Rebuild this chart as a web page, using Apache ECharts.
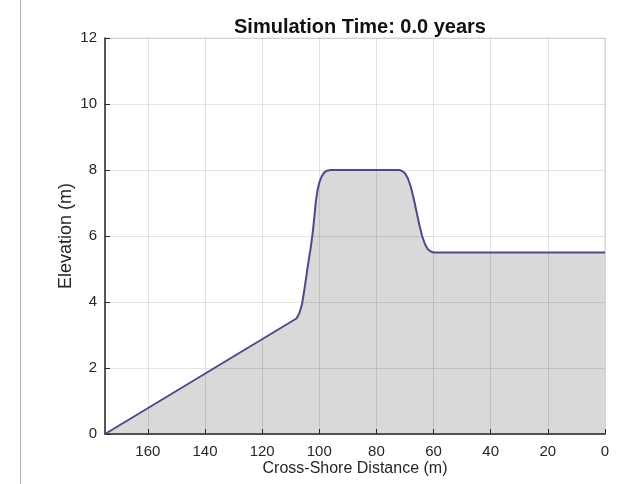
<!DOCTYPE html>
<html>
<head>
<meta charset="utf-8">
<script src="https://cdn.jsdelivr.net/npm/echarts@6/dist/echarts.min.js"></script>
<style>html,body{margin:0;padding:0;background:#fff;}#c{width:628px;height:484px;}</style>
</head>
<body>
<div id="c"></div>
<script>
var titleText = 'Simulation Time: 0.0 years';
var xName = 'Cross-Shore Distance (m)';
var yName = 'Elevation (m)';
var distance = [175, 108, 107, 106, 105, 104, 103, 102.3, 101.7, 101.2, 100.6, 100, 99.2, 98.3, 97.3, 96, 72, 71, 70, 69, 68, 67, 66, 65, 64, 63, 62, 61, 60, 0];
var elevation = [0, 3.5, 3.65, 3.95, 4.5, 5.1, 5.65, 6.1, 6.6, 7.05, 7.4, 7.62, 7.8, 7.92, 7.98, 8, 8, 7.97, 7.9, 7.75, 7.5, 7.15, 6.75, 6.35, 6.0, 5.75, 5.6, 5.53, 5.5, 5.5];

var pts = distance.map(function (d, i) { return [d, elevation[i]]; });
var chart = echarts.init(document.getElementById('c'));
var font = 'Liberation Sans, Arial, Helvetica, sans-serif';
chart.setOption({
  animation: false,
  backgroundColor: '#fff',
  title: {
    text: titleText, left: 355, top: 12, textAlign: 'center',
    textStyle: { fontFamily: font, fontSize: 20, fontWeight: 'bold', color: '#111' }
  },
  graphic: [{
    type: 'line', shape: { x1: 20.5, y1: 0, x2: 20.5, y2: 484 },
    style: { stroke: '#b0b0b0', lineWidth: 1 }
  }],
  grid: { left: 105, right: 23, top: 38, bottom: 50, show: true, borderColor: '#dcdcdc', borderWidth: 1, backgroundColor: 'transparent' },
  xAxis: {
    type: 'value', inverse: true, min: 0, max: 175, interval: 20, z: 3,
    name: xName, nameLocation: 'middle', nameGap: 27, nameMoveOverlap: false,
    nameTextStyle: { fontFamily: font, fontSize: 16, color: '#262626' },
    axisLine: { onZero: false, lineStyle: { color: '#262626', width: 1.5 } },
    axisTick: { inside: true, length: 5, lineStyle: { color: '#262626' } },
    axisLabel: { fontFamily: font, fontSize: 15, color: '#262626', margin: 10, showMaxLabel: false },
    splitLine: { show: true, lineStyle: { color: 'rgba(0,0,0,0.11)', width: 1 } }
  },
  yAxis: {
    type: 'value', min: 0, max: 12, interval: 2, z: 3, position: 'left',
    name: yName, nameLocation: 'middle', nameGap: 30, nameMoveOverlap: false,
    nameTextStyle: { fontFamily: font, fontSize: 18, color: '#262626' },
    axisLine: { show: true, onZero: false, lineStyle: { color: '#262626', width: 1.5 } },
    axisTick: { show: true, inside: true, length: 5, lineStyle: { color: '#262626' } },
    axisLabel: { fontFamily: font, fontSize: 15, color: '#262626', margin: 8 },
    splitLine: { show: true, lineStyle: { color: 'rgba(0,0,0,0.11)', width: 1 } }
  },
  series: [{
    type: 'line', data: pts, showSymbol: false, z: 1,
    lineStyle: { width: 0 },
    areaStyle: { color: '#d9d9d9', opacity: 1 }
  }, {
    type: 'line', data: pts, showSymbol: false, z: 10,
    lineStyle: { width: 2, color: '#4a4a8c' }
  }]
});
</script>
</body>
</html>
